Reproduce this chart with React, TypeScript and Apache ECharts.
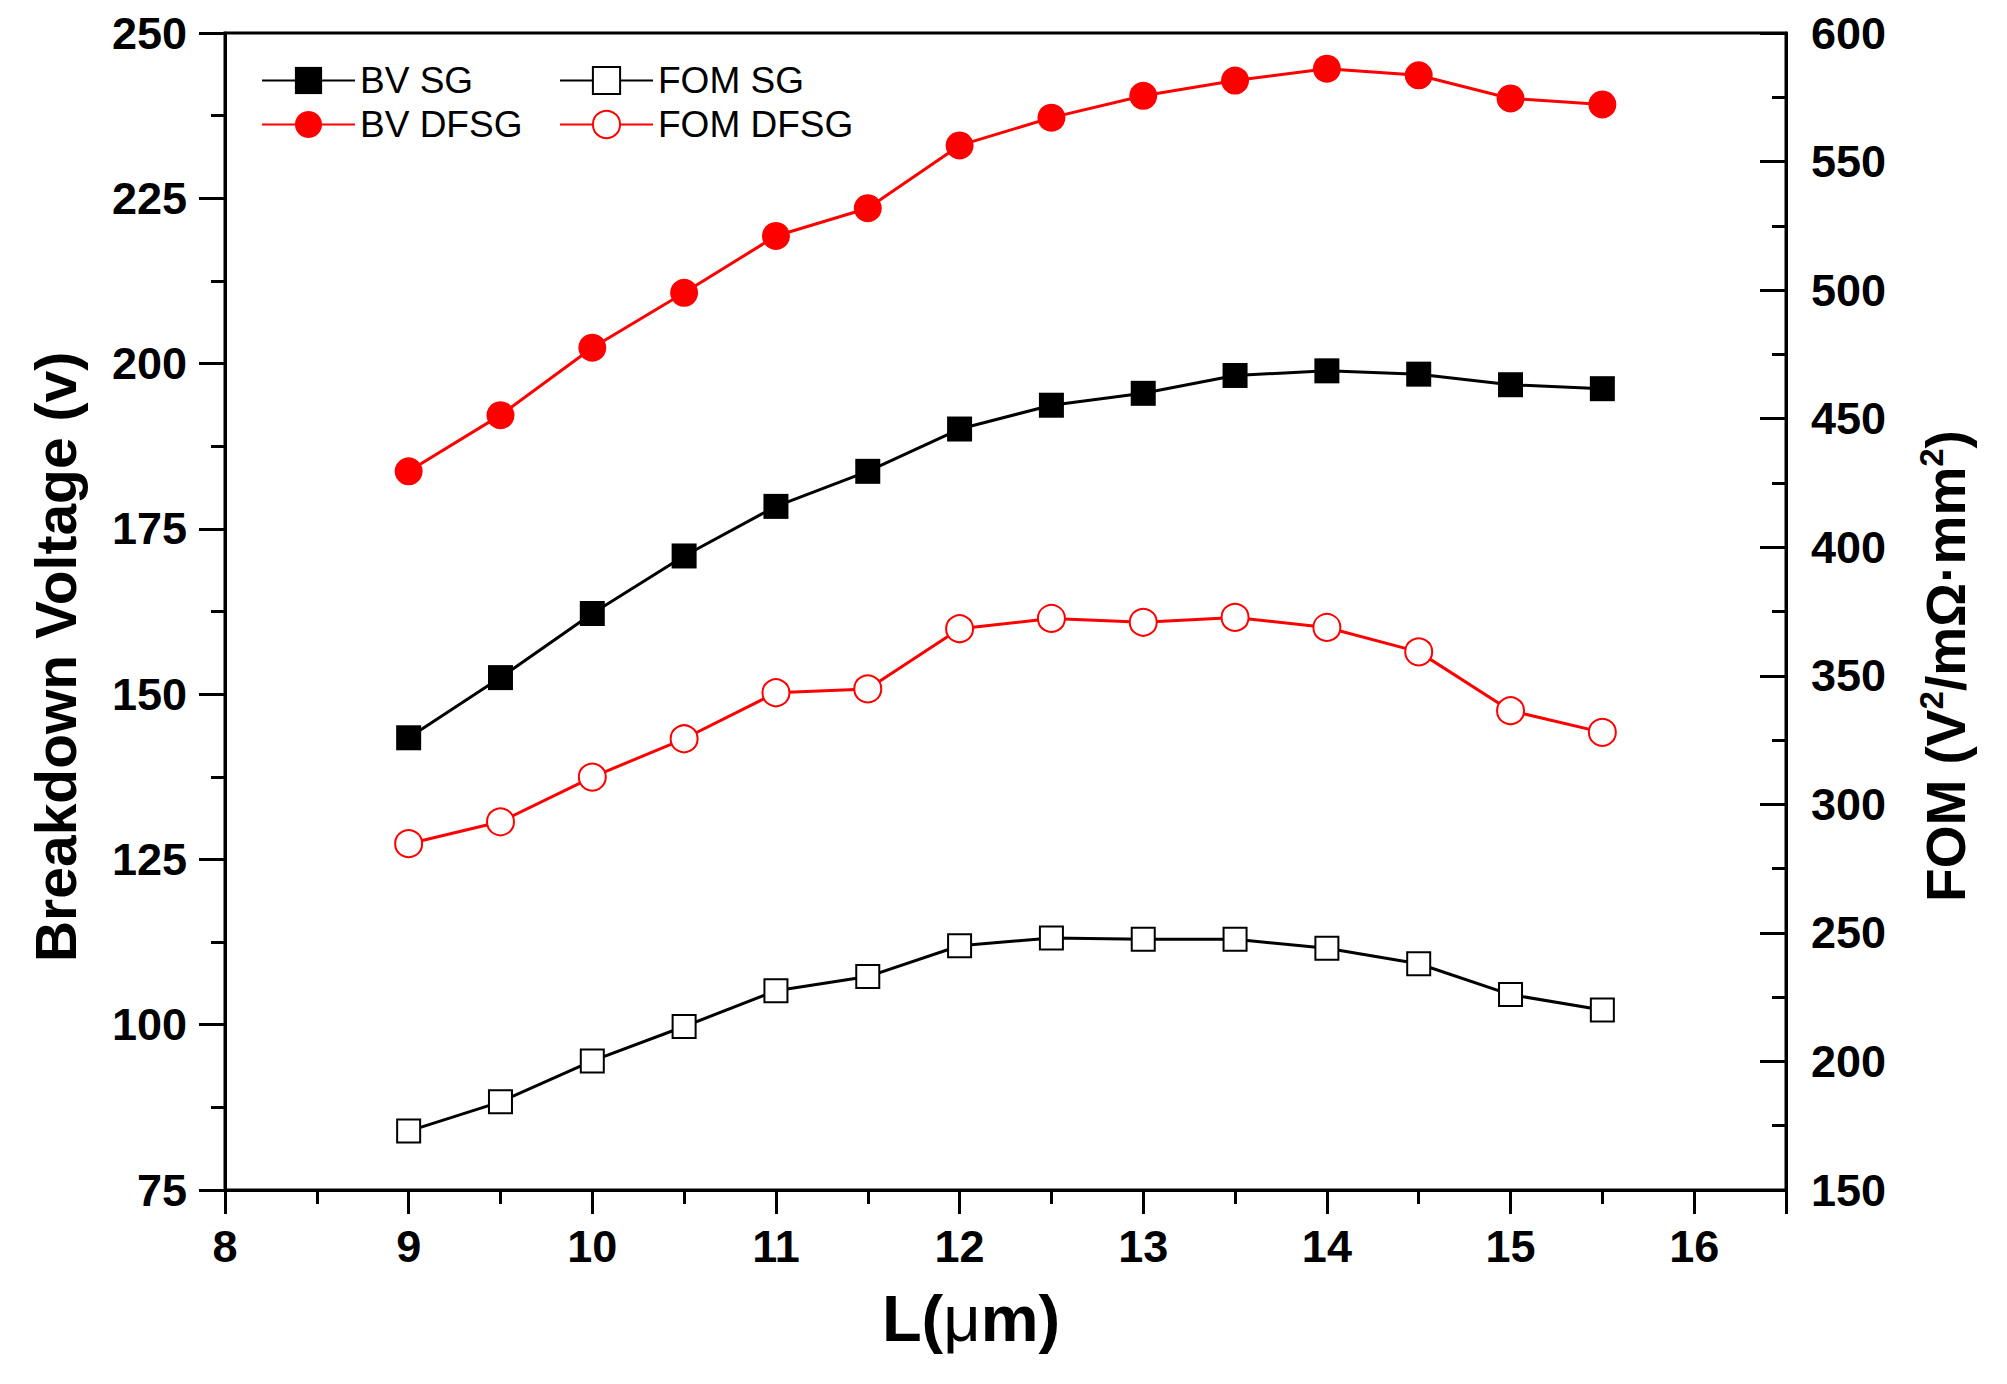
import * as echarts from "echarts";
import { useEffect, useRef } from "react";

// gate length L (um)
const lengths = [9, 9.5, 10, 10.5, 11, 11.5, 12, 12.5, 13, 13.5, 14, 14.5, 15, 15.5];
// breakdown voltage (V), left axis
const bvSG = [143.4, 152.5, 162.2, 170.9, 178.4, 183.7, 190.1, 193.7, 195.5, 198.2, 198.9, 198.4, 196.8, 196.2];
const bvDFSG = [183.7, 192.2, 202.4, 210.7, 219.3, 223.5, 233.0, 237.2, 240.5, 242.8, 244.6, 243.6, 240.1, 239.2];
// FOM (V^2/mOhm.mm^2), right axis
const fomSG = [172.9, 184.3, 200.2, 213.6, 227.5, 233.0, 245.0, 248.0, 247.5, 247.5, 244.0, 238.0, 226.0, 220.0];
const fomDFSG = [284.7, 293.2, 310.6, 325.5, 343.4, 344.9, 368.3, 372.3, 370.8, 372.7, 368.8, 359.3, 336.4, 328.0];

// axis ranges [min, max, step]
const xRange = [8, 16.5, 1];
const bvRange = [75, 250, 25];
const fomRange = [150, 600, 50];

const FONT = '"Liberation Sans", Arial, sans-serif';
const RED = "#ff0000";

const pairs = (ys: number[]) => lengths.map((x, i) => [x, ys[i]]);

export default function App() {
	const chartRef = useRef<HTMLDivElement>(null);

	useEffect(() => {
		if (!chartRef.current) return;
		document.body.style.margin = "0";
		const chart = echarts.init(chartRef.current, null, { renderer: "svg" });

		const legendText = { fontFamily: FONT, fontSize: 37, color: "#000" };
		const axisLine = { show: true, lineStyle: { color: "#000", width: 3 } };
		const tickLabel = { fontFamily: FONT, fontWeight: "bold", fontSize: 45, color: "#000" };

		chart.setOption({
			animation: false,
			backgroundColor: "#fff",
			grid: {
				left: 225,
				right: 221,
				top: 33,
				bottom: 194,
				show: true,
				borderColor: "#000",
				borderWidth: 3,
			},
			legend: [
				{
					orient: "vertical",
					left: 256,
					top: 57,
					itemWidth: 93,
					itemHeight: 34,
					itemGap: 7,
					textStyle: legendText,
					data: ["BV SG", "BV DFSG"],
				},
				{
					orient: "vertical",
					left: 554,
					top: 57,
					itemWidth: 93,
					itemHeight: 34,
					itemGap: 7,
					textStyle: legendText,
					data: ["FOM SG", "FOM DFSG"],
				},
			],
			xAxis: [
				{
					type: "value",
					position: "bottom",
					min: xRange[0],
					max: xRange[1],
					interval: xRange[2],
					axisLine,
					axisTick: { show: true, length: 24, lineStyle: { color: "#000", width: 3 } },
					splitLine: { show: false },
					axisLabel: {
						...tickLabel,
						margin: 34,
						formatter: (v: number) => (Number.isInteger(v) ? String(v) : ""),
					},
				},
				{
					type: "value",
					position: "bottom",
					min: xRange[0],
					max: xRange[1],
					interval: xRange[2] / 2,
					axisLine: { show: false },
					axisTick: { show: true, length: 14, lineStyle: { color: "#000", width: 3 } },
					axisLabel: { show: false },
					splitLine: { show: false },
				},
			],
			yAxis: [
				{
					type: "value",
					position: "left",
					min: bvRange[0],
					max: bvRange[1],
					interval: bvRange[2],
					axisLine,
					axisTick: { show: true, length: 26, lineStyle: { color: "#000", width: 3 } },
					minorTick: { show: true, splitNumber: 2, length: 14, lineStyle: { color: "#000", width: 3 } },
					splitLine: { show: false },
					axisLabel: { ...tickLabel, margin: 38 },
				},
				{
					type: "value",
					position: "right",
					min: fomRange[0],
					max: fomRange[1],
					interval: fomRange[2],
					axisLine,
					axisTick: { show: true, inside: true, length: 26, lineStyle: { color: "#000", width: 3 } },
					minorTick: { show: true, splitNumber: 2, length: 14, lineStyle: { color: "#000", width: 3 } },
					splitLine: { show: false },
					axisLabel: { ...tickLabel, margin: 25 },
				},
			],
			series: [
				{
					name: "BV SG",
					type: "line",
					yAxisIndex: 0,
					data: pairs(bvSG),
					symbol: "rect",
					symbolSize: 25,
					lineStyle: { color: "#000", width: 3 },
					itemStyle: { color: "#000" },
				},
				{
					name: "BV DFSG",
					type: "line",
					yAxisIndex: 0,
					data: pairs(bvDFSG),
					symbol: "circle",
					symbolSize: 28,
					lineStyle: { color: RED, width: 3 },
					itemStyle: { color: RED },
				},
				{
					name: "FOM SG",
					type: "line",
					yAxisIndex: 1,
					data: pairs(fomSG),
					symbol: "rect",
					symbolSize: 23,
					lineStyle: { color: "#000", width: 3 },
					itemStyle: { color: "#fff", borderColor: "#000", borderWidth: 2 },
				},
				{
					name: "FOM DFSG",
					type: "line",
					yAxisIndex: 1,
					data: pairs(fomDFSG),
					symbol: "circle",
					symbolSize: 27,
					lineStyle: { color: RED, width: 3 },
					itemStyle: { color: "#fff", borderColor: RED, borderWidth: 2 },
				},
			],
			graphic: [
				{
					type: "text",
					x: 56,
					y: 657,
					rotation: Math.PI / 2,
					style: {
						text: "Breakdown Voltage (v)",
						font: `bold 57px ${FONT}`,
						fill: "#000",
						align: "center",
						verticalAlign: "middle",
					},
				},
				{
					type: "text",
					x: 1946,
					y: 666,
					rotation: Math.PI / 2,
					style: {
						text: "{b|FOM (V}{s|2}{b|/mΩ·mm}{s|2}{b|)}",
						fill: "#000",
						align: "center",
						verticalAlign: "middle",
						rich: {
							b: { fontFamily: FONT, fontWeight: "bold", fontSize: 55, fill: "#000", lineHeight: 63 },
							s: { fontFamily: FONT, fontWeight: "bold", fontSize: 33, fill: "#000", verticalAlign: "top", lineHeight: 63 },
						},
					},
				},
				{
					type: "text",
					x: 971,
					y: 1318,
					style: {
						text: "{b|L(}{n|μ}{b|m)}",
						fill: "#000",
						align: "center",
						verticalAlign: "middle",
						rich: {
							b: { fontFamily: FONT, fontWeight: "bold", fontSize: 65, fill: "#000" },
							n: { fontFamily: FONT, fontWeight: "normal", fontSize: 65, fill: "#000" },
						},
					},
				},
			],
		});

		const onResize = () => chart.resize();
		window.addEventListener("resize", onResize);
		return () => {
			window.removeEventListener("resize", onResize);
			chart.dispose();
		};
	}, []);

	return <div ref={chartRef} style={{ width: 2007, height: 1384 }} />;
}
